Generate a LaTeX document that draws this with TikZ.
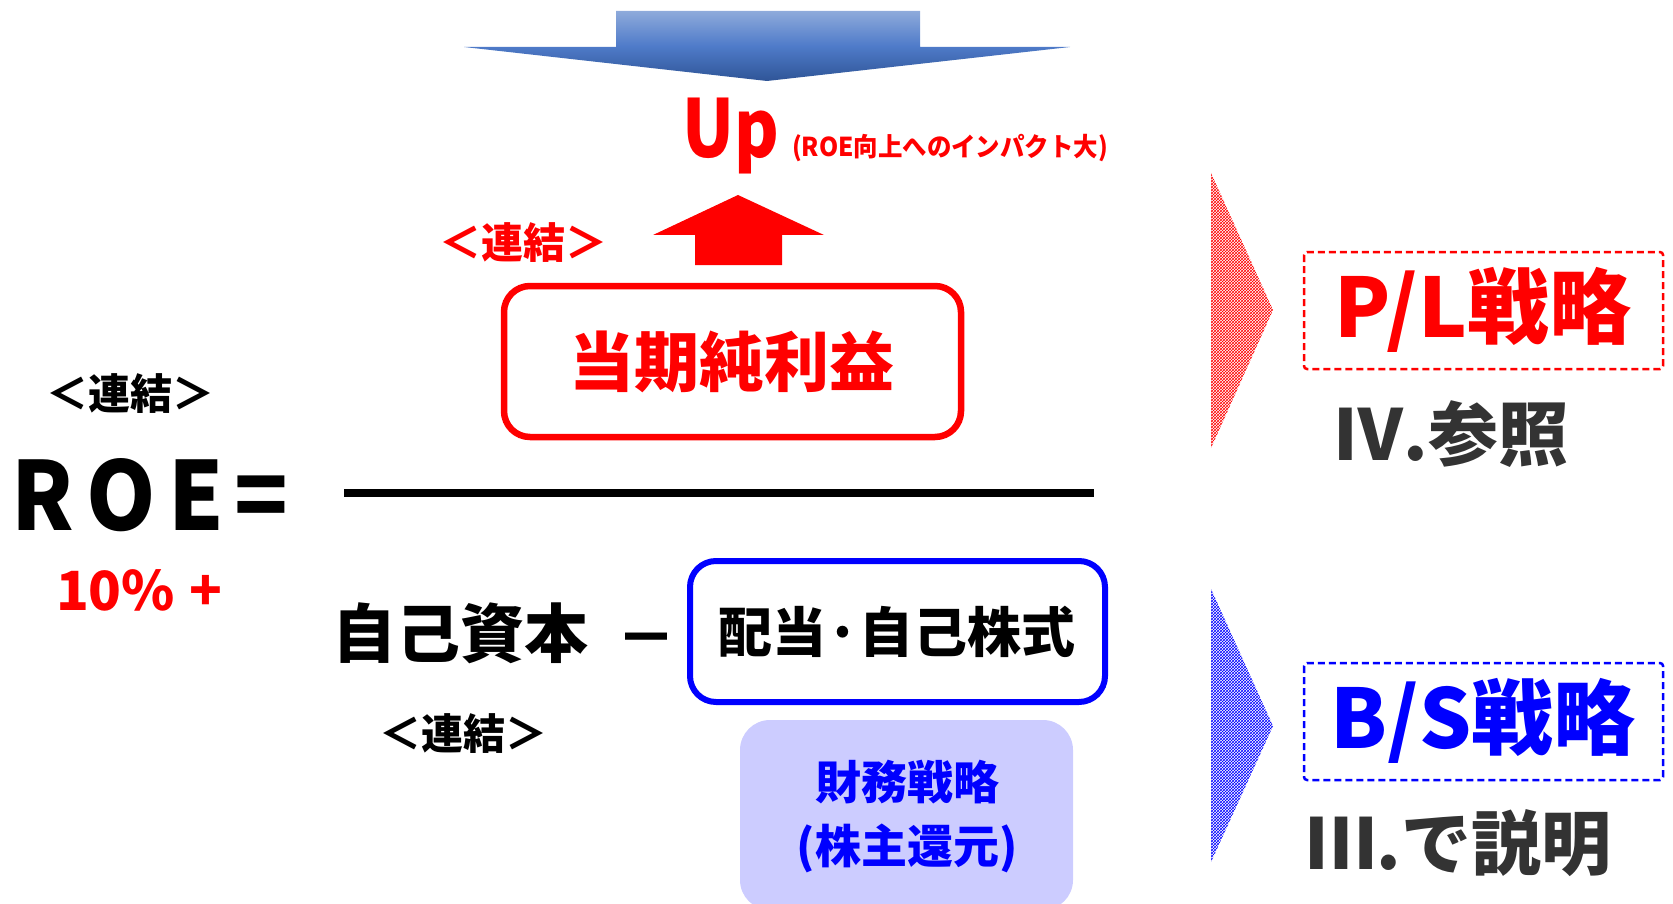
\documentclass[tikz,border=0pt]{standalone}
\usepackage{fontspec}
\setmainfont{Noto Sans CJK JP}
\usetikzlibrary{patterns}
\definecolor{arrtop}{HTML}{8EAADB}
\definecolor{arrmid}{HTML}{4F7BC9}
\definecolor{arrbot}{HTML}{2F5597}
\definecolor{pred}{HTML}{FF0000}
\definecolor{pblue}{HTML}{0000FF}
\definecolor{lav}{HTML}{CCCCFF}
\definecolor{dgray}{HTML}{333333}
\newcommand\fsz[1]{\fontsize{#1}{#1}\selectfont}
\tikzset{
  txt/.style={inner sep=0pt, outer sep=0pt},
  redbox/.style={draw=pred, line width=6.5pt, rounded corners=26pt, fill=white},
  bluebox/.style={draw=pblue, line width=6pt, rounded corners=26pt, fill=white},
  lavbox/.style={fill=lav, rounded corners=30pt},
  dashbox/.style={line width=2.5pt, dash pattern=on 7pt off 4pt, rounded corners=3pt},
  hatchtri/.style={pattern=crosshatch},
}
\begin{document}
\begin{tikzpicture}[x=1pt,y=-1pt]
\useasboundingbox (0,0) rectangle (1673,904);
% top blue arrow
\shade[top color=arrtop, bottom color=arrbot, middle color=arrmid]
  (616,11) -- (920,11) -- (920,47) -- (1070,47) -- (767,81) -- (464,47) -- (616,47) -- cycle;
% Up
\node[txt, text=pred, font=\fsz{74}\bfseries, anchor=base, xscale=0.92, yscale=1.08] (up) at (731,158) {Up};
\node[txt, text=pred, font=\fsz{26}\bfseries, anchor=base west, xscale=0.94] (upnote) at (792,157) {(ROE向上へのインパクト大)};
% red up arrow
\fill[pred] (738,195) -- (824,235) -- (782,235) -- (782,265) -- (695,265) -- (695,235) -- (653,235) -- cycle;
\node[txt, text=pred, font=\fsz{42}\bfseries] (renketsu1) at (523,243) {＜連結＞};
% numerator
\draw[redbox] (504,286) rectangle (961,437);
\node[txt, text=pred, font=\fsz{65}\bfseries] (netincome) at (732,362) {当期純利益};
% ROE
\node[txt, font=\fsz{42}\bfseries] (renketsu2) at (130,394) {＜連結＞};
\node[txt, font=\fsz{95}\bfseries, anchor=base west, xscale=0.93] (roe) at (12,530) {R\hspace{13pt}O\hspace{13pt}E\hspace{11pt}=};
\node[txt, text=pred, font=\fsz{54}\bfseries, anchor=base west] (ten) at (56,610) {10\%\hspace{14pt}+};
% fraction line
\draw[line width=8pt] (344,493) -- (1094,493);
% denominator
\node[txt, font=\fsz{64}\bfseries] (equity) at (460,633) {自己資本};
\node[txt, font=\fsz{60}\bfseries] (minus) at (646,646) {－};
\draw[bluebox] (690,561) rectangle (1105,702);
\node[txt, font=\fsz{54}\bfseries] (div) at (897,632) {配当·自己株式};
\node[txt, font=\fsz{42}\bfseries] (renketsu3) at (463,734) {＜連結＞};
\fill[lavbox] (740,720) rectangle (1073,910);
\node[txt, text=pblue, font=\fsz{46}\bfseries] (fin1) at (907,782) {財務戦略};
\node[txt, text=pblue, font=\fsz{46}\bfseries] (fin2) at (907,848) {(株主還元)};
% right side
\path[hatchtri, pattern color=pred] (1211,173) -- (1273,310) -- (1211,448) -- cycle;
\path[hatchtri, pattern color=pblue] (1211,589) -- (1273,726) -- (1211,862) -- cycle;
\draw[dashbox, draw=pred] (1304,252) rectangle (1663,369);
\node[txt, text=pred, font=\fsz{82}\bfseries] (pl) at (1483,310) {P/L戦略};
\draw[dashbox, draw=pblue] (1304,663) rectangle (1663,780);
\node[txt, text=pblue, font=\fsz{82}\bfseries] (bs) at (1483,721) {B/S戦略};
\node[txt, text=dgray, font=\fsz{70}\bfseries] (ref4) at (1451,434) {Ⅳ.参照};
\node[txt, text=dgray, font=\fsz{70}\bfseries] (ref3) at (1459,843) {Ⅲ.で説明};
\end{tikzpicture}
\end{document}
